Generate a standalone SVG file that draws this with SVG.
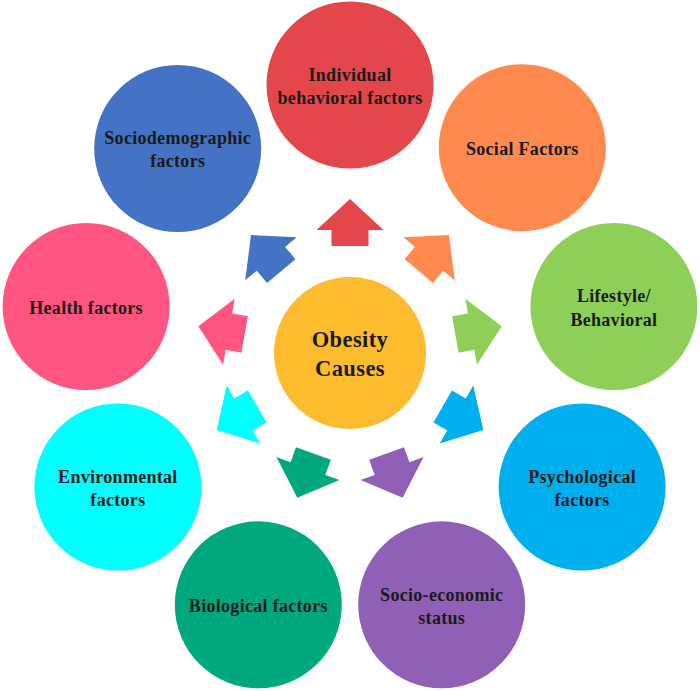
<svg xmlns="http://www.w3.org/2000/svg" width="700" height="691" viewBox="0 0 700 691">
<style>
text{font-family:"Liberation Serif","Times New Roman",serif;font-weight:bold;fill:#1a1a1a;text-anchor:middle}
.lbl{font-size:18px;letter-spacing:0.3px}
.ctr{font-size:22.5px;letter-spacing:0.4px}
</style>
<defs>
<path id="arr" d="M0,-154 L33.5,-123 L18.5,-123 L18.5,-107 L-18.5,-107 L-18.5,-123 L-33.5,-123 Z"/>
</defs>
<rect width="700" height="691" fill="#ffffff"/>
<g id="connectors">
<use href="#arr" fill="#E3474B" transform="translate(350 353) rotate(0)"/>
<use href="#arr" fill="#FF8A50" transform="translate(350 353) rotate(40)"/>
<use href="#arr" fill="#8DCF57" transform="translate(350 353) rotate(80)"/>
<use href="#arr" fill="#00B0EE" transform="translate(350 353) rotate(120)"/>
<use href="#arr" fill="#8F60B6" transform="translate(350 353) rotate(160)"/>
<use href="#arr" fill="#00A87E" transform="translate(350 353) rotate(200)"/>
<use href="#arr" fill="#00FFFF" transform="translate(350 353) rotate(240)"/>
<use href="#arr" fill="#FF5580" transform="translate(350 353) rotate(280)"/>
<use href="#arr" fill="#4472C4" transform="translate(350 353) rotate(320)"/>
</g>
<g id="center">
<circle cx="350" cy="353" r="76" fill="#FDBC2D"/>
<text class="ctr" x="350" y="347">Obesity</text>
<text class="ctr" x="350" y="376">Causes</text>
</g>
<g id="individual">
<circle cx="350" cy="85" r="83.5" fill="#E3474B"/>
<text class="lbl" x="350" y="80.5">Individual</text>
<text class="lbl" x="350" y="104">behavioral factors</text>
</g>
<g id="social">
<circle cx="522.3" cy="147.7" r="83.5" fill="#FF8A50"/>
<text class="lbl" x="522.3" y="154.5">Social Factors</text>
</g>
<g id="lifestyle">
<circle cx="613.9" cy="306.5" r="83.5" fill="#8DCF57"/>
<text class="lbl" x="613.9" y="302">Lifestyle/</text>
<text class="lbl" x="613.9" y="325.5">Behavioral</text>
</g>
<g id="psychological">
<circle cx="582.1" cy="487" r="83.5" fill="#00B0EE"/>
<text class="lbl" x="582.1" y="482.5">Psychological</text>
<text class="lbl" x="582.1" y="506">factors</text>
</g>
<g id="socioeconomic">
<circle cx="441.7" cy="604.8" r="83.5" fill="#8F60B6"/>
<text class="lbl" x="441.7" y="600.5">Socio-economic</text>
<text class="lbl" x="441.7" y="624">status</text>
</g>
<g id="biological">
<circle cx="258.3" cy="604.8" r="83.5" fill="#00A87E"/>
<text class="lbl" x="258.3" y="611.5">Biological factors</text>
</g>
<g id="environmental">
<circle cx="117.9" cy="487" r="83.5" fill="#00FFFF"/>
<text class="lbl" x="117.9" y="482.5">Environmental</text>
<text class="lbl" x="117.9" y="506">factors</text>
</g>
<g id="health">
<circle cx="86.1" cy="306.5" r="83.5" fill="#FF5580"/>
<text class="lbl" x="86.1" y="313.5">Health factors</text>
</g>
<g id="sociodemographic">
<circle cx="177.7" cy="148.5" r="83.5" fill="#4472C4"/>
<text class="lbl" x="177.7" y="143.5">Sociodemographic</text>
<text class="lbl" x="177.7" y="167">factors</text>
</g>
</svg>
